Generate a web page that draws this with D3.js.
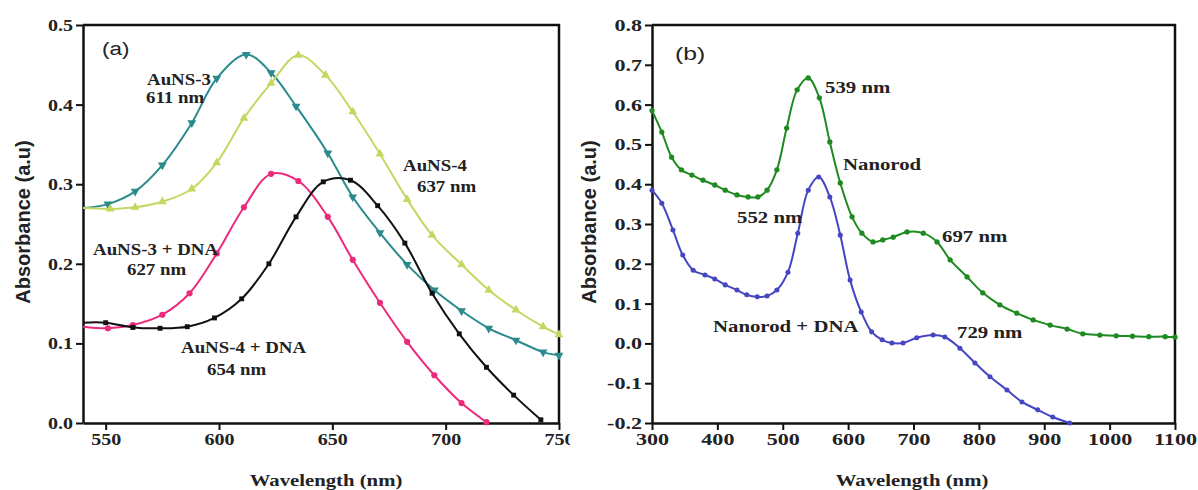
<!DOCTYPE html>
<html>
<head>
<meta charset="utf-8">
<script src="https://cdn.jsdelivr.net/npm/d3@7"></script>
<style>
  body { margin: 0; background: #fff; }
  .tick text { font-family: "Liberation Serif", serif; font-weight: bold; font-size: 17px; fill: #222; }
  .note { font-family: "Liberation Serif", serif; font-weight: bold; font-size: 17px; fill: #222; }
  .xtitle { font-family: "Liberation Serif", serif; font-weight: bold; font-size: 17px; fill: #222; }
  .ytitle { font-family: "Liberation Sans", Arial, sans-serif; font-weight: bold; font-size: 20px; fill: #222; }
  .tag { font-family: "Liberation Sans", Arial, sans-serif; font-size: 19px; fill: #222; }
</style>
</head>
<body>
<script>
// ---- panel (a) data ----
const ticksAX = [550, 600, 650, 700, 750],
	ticksAY = [0, 0.1, 0.2, 0.3, 0.4, 0.5];

const waveA3 = [540, 551, 563, 575, 588, 599, 612, 623, 634, 648, 659, 671, 683, 695, 707, 719, 731, 743, 750],
	absA3 = [0.270, 0.275, 0.291, 0.324, 0.377, 0.433, 0.463, 0.440, 0.398, 0.339, 0.284, 0.239, 0.199, 0.167, 0.141, 0.119, 0.104, 0.089, 0.085];

const waveA4 = [540, 552, 563, 575, 588, 599, 611, 623, 635, 647, 659, 671, 683, 694, 707, 719, 731, 743, 750],
	absA4 = [0.270, 0.269, 0.271, 0.278, 0.294, 0.327, 0.383, 0.427, 0.462, 0.437, 0.391, 0.338, 0.281, 0.236, 0.199, 0.167, 0.142, 0.121, 0.111];

const waveA3dna = [540, 551, 562, 575, 587, 599, 611, 623, 635, 648, 659, 671, 683, 695, 707, 718],
	absA3dna = [0.121, 0.119, 0.123, 0.136, 0.163, 0.213, 0.271, 0.313, 0.304, 0.259, 0.205, 0.151, 0.102, 0.060, 0.025, 0.001];

const waveA4dna = [540, 550, 562, 574, 586, 598, 610, 622, 634, 646, 658, 670, 682, 694, 706, 718, 730, 742],
	absA4dna = [0.126, 0.126, 0.120, 0.119, 0.121, 0.132, 0.156, 0.200, 0.259, 0.303, 0.305, 0.273, 0.226, 0.163, 0.112, 0.070, 0.035, 0.004];

// ---- panel (b) data ----
const ticksBX = [300, 400, 500, 600, 700, 800, 900, 1000, 1100],
	ticksBY = [-0.2, -0.1, 0, 0.1, 0.2, 0.3, 0.4, 0.5, 0.6, 0.7, 0.8];

const waveRod = [300, 315, 330, 345, 361, 378, 396, 412, 430, 447, 462, 476, 491, 506, 522, 539, 556, 572, 588, 606, 621, 638, 653, 669, 690, 715, 736, 756, 782, 806, 832, 858, 883, 909, 935, 959, 985, 1010, 1035, 1060, 1085, 1100],
	absRod = [0.585, 0.531, 0.468, 0.436, 0.423, 0.410, 0.398, 0.385, 0.373, 0.368, 0.368, 0.385, 0.436, 0.541, 0.637, 0.667, 0.617, 0.506, 0.403, 0.318, 0.277, 0.255, 0.260, 0.267, 0.280, 0.277, 0.255, 0.210, 0.167, 0.127, 0.097, 0.076, 0.059, 0.046, 0.036, 0.024, 0.021, 0.019, 0.018, 0.017, 0.017, 0.016];

const waveRodDna = [300, 315, 332, 347, 363, 381, 396, 412, 430, 445, 461, 476, 491, 508, 523, 539, 555, 572, 588, 603, 620, 636, 652, 667, 684, 705, 730, 748, 771, 794, 817, 843, 866, 890, 913, 939],
	absRodDna = [0.385, 0.352, 0.285, 0.222, 0.184, 0.172, 0.162, 0.147, 0.134, 0.122, 0.117, 0.119, 0.134, 0.179, 0.277, 0.385, 0.418, 0.368, 0.272, 0.159, 0.079, 0.029, 0.009, 0.001, 0.001, 0.014, 0.021, 0.016, -0.012, -0.049, -0.084, -0.117, -0.147, -0.167, -0.185, -0.200];

const svg = d3.select("body").append("svg")
	.attr("width", 1198)
	.attr("height", 490);

// clip for panel (a): its "750" label is cut by panel (b) in the original
svg.append("clipPath").attr("id", "clipA")
	.append("rect").attr("x", 0).attr("y", 0).attr("width", 570).attr("height", 490);

function note(g, txt, x, y, sx, cls) {
	g.append("text")
		.attr("class", cls || "note")
		.attr("transform", "translate(" + x + "," + y + ") scale(" + sx + ",1)")
		.text(txt);
}

function drawPanel(p) {
	const g = svg.append("g");
	if (p.clip) g.attr("clip-path", "url(#" + p.clip + ")");

	const x = d3.scaleLinear().domain(p.xdom).range([p.left, p.right]);
	const y = d3.scaleLinear().domain(p.ydom).range([p.bottom, p.top]);

	// frame (top / right)
	g.append("path")
		.attr("d", "M" + p.left + "," + p.top + "H" + p.right + "V" + p.bottom)
		.attr("fill", "none")
		.attr("stroke", "#111")
		.attr("stroke-width", 2.5);

	const xa = g.append("g")
		.attr("transform", "translate(0," + p.bottom + ")")
		.call(d3.axisBottom(x).tickValues(p.xticks).tickSize(7).tickSizeOuter(0).tickPadding(3).tickFormat(d3.format("d")));
	xa.selectAll("text").attr("transform", "scale(" + p.sx + ",1)");

	const ya = g.append("g")
		.attr("transform", "translate(" + p.left + ",0)")
		.call(d3.axisLeft(y).tickValues(p.yticks).tickSize(7).tickSizeOuter(0).tickPadding(3).tickFormat(d => d.toFixed(1)));
	ya.selectAll("text")
		.attr("x", -10 / p.sx)
		.attr("transform", "scale(" + p.sx + ",1)");

	[xa, ya].forEach(a => {
		a.select(".domain").attr("stroke", "#111").attr("stroke-width", 2.5);
		a.selectAll(".tick line").attr("stroke", "#111").attr("stroke-width", 2);
	});

	const line = d3.line()
		.x(d => x(d[0]))
		.y(d => y(d[1]))
		.curve(d3.curveCatmullRom.alpha(0.5));

	p.series.forEach(s => {
		const pts = s.wave.map((w, i) => [w, s.abs[i]]);
		g.append("path")
			.datum(pts)
			.attr("fill", "none")
			.attr("stroke", s.color)
			.attr("stroke-width", 2)
			.attr("d", line);

		const sym = d3.symbol().type(s.symbol).size(s.size);
		g.selectAll(null)
			.data(pts.filter(d => d[0] > p.xdom[0] + 4 || p.markFirst))
			.enter().append("path")
			.attr("d", sym)
			.attr("fill", s.color)
			.attr("transform", d => "translate(" + x(d[0]) + "," + y(d[1]) + ")" + (s.flip ? " rotate(180)" : ""));
	});

	p.notes.forEach(n => note(g, n[0], n[1], n[2], n[3] ? p.sx : p.sx * 16 / 17, n[3]));

	g.append("text")
		.attr("class", "xtitle")
		.attr("text-anchor", "middle")
		.attr("transform", "translate(" + p.xtitleX + ",486) scale(1.22,1)")
		.text("Wavelength (nm)");

	g.append("text")
		.attr("class", "ytitle")
		.attr("text-anchor", "middle")
		.attr("transform", "translate(" + p.ytitleX + ",222) rotate(-90)")
		.text("Absorbance (a.u)");
}

drawPanel({
	clip: "clipA",
	xdom: [540, 750], ydom: [0, 0.5],
	left: 83, right: 559, top: 25, bottom: 423,
	xticks: ticksAX, yticks: ticksAY,
	sx: 1.18, xtitleX: 326, ytitleX: 30,
	markFirst: false,
	series: [
		{ wave: waveA3, abs: absA3, color: "#2b8a8c", symbol: d3.symbolTriangle, size: 34, flip: true },
		{ wave: waveA4, abs: absA4, color: "#c3d862", symbol: d3.symbolTriangle, size: 34 },
		{ wave: waveA3dna, abs: absA3dna, color: "#ec2a7c", symbol: d3.symbolCircle, size: 30 },
		{ wave: waveA4dna, abs: absA4dna, color: "#111111", symbol: d3.symbolSquare, size: 24 }
	],
	notes: [
		["(a)", 102, 55, "tag"],
		["AuNS-3", 147, 85],
		["611 nm", 146, 103],
		["AuNS-4", 403, 171],
		["637 nm", 417, 192],
		["AuNS-3 + DNA", 93, 255],
		["627 nm", 127, 275],
		["AuNS-4 + DNA", 181, 353],
		["654 nm", 207, 375]
	]
});

drawPanel({
	xdom: [300, 1100], ydom: [-0.2, 0.8],
	left: 652, right: 1175, top: 25, bottom: 423,
	xticks: ticksBX, yticks: ticksBY,
	sx: 1.3, xtitleX: 912, ytitleX: 596,
	markFirst: true,
	series: [
		{ wave: waveRod, abs: absRod, color: "#1f8a22", symbol: d3.symbolCircle, size: 22 },
		{ wave: waveRodDna, abs: absRodDna, color: "#4646c2", symbol: d3.symbolCircle, size: 20 }
	],
	notes: [
		["(b)", 675, 60, "tag"],
		["539 nm", 825, 93],
		["Nanorod", 843, 170],
		["552 nm", 737, 223],
		["697 nm", 942, 242],
		["729 nm", 957, 338],
		["Nanorod + DNA", 713, 332]
	]
});
</script>
</body>
</html>
